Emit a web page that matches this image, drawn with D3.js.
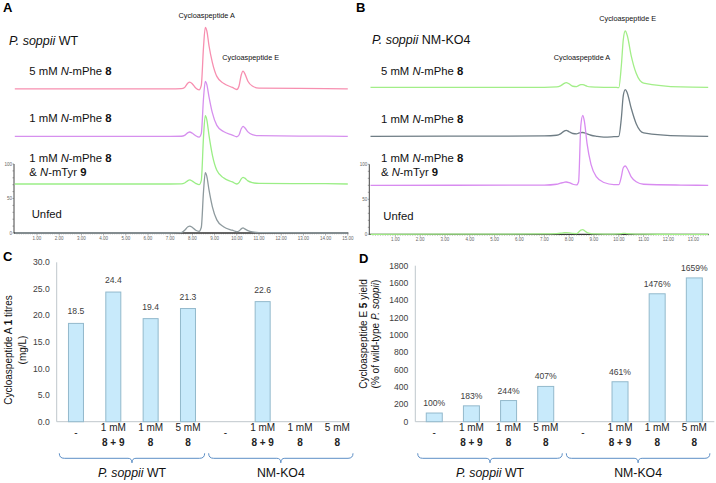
<!DOCTYPE html>
<html>
<head>
<meta charset="utf-8">
<script src="https://cdn.jsdelivr.net/npm/d3@7"></script>
<style>
  body { margin: 0; background: #fff; }
  svg { display: block; font-family: "Liberation Sans", Arial, sans-serif; }
</style>
</head>
<body>
<svg id="fig" width="716" height="483"></svg>
<script>
// ---- chromatogram data (retention time in min, intensity relative to each trace's own baseline) ----
const timesA = [0, 7.0, 7.5, 7.65, 7.8, 7.88, 8.0, 8.15, 8.3, 8.4, 8.5, 8.58, 8.65, 8.75, 8.9, 9.1, 9.4, 9.8, 10.0, 10.1, 10.2, 10.28, 10.36, 10.5, 10.7, 11.0, 14.0, 15.0];
const wt5mM   = [0, 0, 0.3, 2, 8.5, 9.7, 7, 1, -1.5, 5, 60, 89, 84, 62, 38, 18, 8, 2, -1, 4, 20, 25.6, 22, 11, 4, 1, 0.3, 0];
const wt1mM   = [0, 0, 0.2, 1.5, 5.5, 6.4, 4.5, 1, -1, 4, 55, 79.7, 75, 57, 34, 16, 7, 2, -0.5, 2, 11, 14.5, 12.5, 6.5, 2.5, 1, 0.3, 0];
const wt8and9 = [0, 0, 0.2, 1.5, 5, 6, 4.2, 1, -1, 5, 68, 99, 93, 70, 42, 20, 9, 3, 0, 2, 7.5, 9.6, 8.5, 4.5, 2, 0.8, 0.5, 0];
const wtUnfed = [0, 0, 0.5, 4, 9, 10, 8, 4, 2.5, 8, 60, 87.4, 82, 62, 38, 19, 9, 4, 2, 3, 6, 7.5, 6, 3.5, 1.5, 0.5, 0, 0];
const offsetsA = [209, 140, 71, 0];

const timesB = [0, 7.0, 7.5, 7.65, 7.8, 7.88, 8.0, 8.15, 8.3, 8.38, 8.47, 8.55, 8.62, 8.72, 8.88, 9.1, 9.4, 9.8, 10.0, 10.1, 10.18, 10.26, 10.34, 10.5, 10.7, 11.0, 12.5, 13.6];
const ko5mM   = [0, 0, 0.5, 2, 5.5, 6.7, 5, 1.5, 1, 2.5, 3.7, 3.9, 3, 1.5, 0.5, 0.2, 0, 0, -0.5, 30, 68, 80.4, 74, 45, 20, 6, 0.5, 0];
const ko1mM   = [0, 0.5, 1.5, 3.5, 7.5, 8.6, 6.5, 4, 3.5, 4.5, 5.2, 5.4, 5, 3.5, 1.5, 0, -1.2, -0.5, 0, 25, 58, 66.7, 62, 40, 18, 5, 0.5, 0];
const ko8and9 = [0, 0.3, 1.5, 3, 4.3, 4.7, 3.8, 1.5, 0.5, 5, 85, 100, 90, 60, 30, 12, 4, 1, 1, 12, 25, 27.6, 24, 12, 5, 1.5, 0.3, 0];
const koUnfed = [0, 0.5, 1, 1.5, 2.2, 2.3, 2, 1.2, 1, 3, 6, 6.6, 5, 2.5, 1, 0.5, 0.3, 0.3, 0.5, 1, 1.2, 1.2, 1, 0.5, 0.3, 0.2, 0, 0];
const offsetsB = [210, 140, 70, 0];

// ---- bar chart data ----
const catLine1 = ["-", "1 mM", "1 mM", "5 mM", "-", "1 mM", "1 mM", "5 mM"];
const catLine2 = ["", "8 + 9", "8", "8", "", "8 + 9", "8", "8"];
const titresA = [18.5, 24.4, 19.4, 21.3, null, 22.6, null, null];
const yieldE = [100, 183, 244, 407, null, 461, 1476, 1659];
const strains = ["WT", "NM-KO4"];

const svg = d3.select("#fig");

function rich(g, x, y, parts, size, anchor) {
  const t = g.append("text")
    .attr("x", x).attr("y", y)
    .attr("font-size", size)
    .attr("text-anchor", anchor || "start")
    .attr("fill", "#111");
  parts.forEach(p => {
    const s = t.append("tspan").text(p[0]);
    if (p[1] && p[1].includes("i")) s.attr("font-style", "italic");
    if (p[1] && p[1].includes("b")) s.attr("font-weight", "bold");
  });
  return t;
}

function panelLetter(x, y, txt) {
  svg.append("text").attr("x", x).attr("y", y)
    .attr("font-size", 13).attr("font-weight", "bold").text(txt);
}

// ================= chromatograms =================
function drawChrom(opt) {
  const g = svg.append("g");
  const x = d3.scaleLinear().domain([0, opt.tmax]).range(opt.xr);
  const y = d3.scaleLinear().domain([0, 100]).range(opt.yr);

  // y axis
  g.append("line").attr("x1", opt.axisX).attr("x2", opt.axisX)
    .attr("y1", y(0)).attr("y2", y(100)).attr("stroke", "#444").attr("stroke-width", 1);
  d3.range(0, 101, 10).forEach(v => {
    g.append("line").attr("x1", opt.axisX - 1.5).attr("x2", opt.axisX)
      .attr("y1", y(v)).attr("y2", y(v)).attr("stroke", "#666").attr("stroke-width", 0.6);
  });
  [0, 50, 100].forEach(v => {
    g.append("text").attr("x", opt.axisX - 2).attr("y", y(v) + 1.5)
      .attr("font-size", 4.5).attr("text-anchor", "end").attr("fill", "#666").text(v);
  });

  // x axis
  g.append("line").attr("x1", opt.axisX).attr("x2", opt.xr[1] + 0.5)
    .attr("y1", y(0)).attr("y2", y(0)).attr("stroke", "#333").attr("stroke-width", 1.3);
  d3.range(1, Math.floor(opt.tmax * 10) + 1).forEach(k => {
    const t = k / 10;
    const major = k % 10 === 0;
    g.append("line").attr("x1", x(t)).attr("x2", x(t))
      .attr("y1", y(0)).attr("y2", y(0) + (major ? 2.5 : 1.3))
      .attr("stroke", "#555").attr("stroke-width", 0.5);
  });
  d3.range(1, Math.floor(opt.tmax) + 1).forEach(t => {
    g.append("text").attr("x", x(t)).attr("y", y(0) + 6.5)
      .attr("font-size", 4.5).attr("text-anchor", "middle").attr("fill", "#666")
      .text(d3.format(".2f")(t));
  });

  // traces
  const line = d3.line().curve(d3.curveMonotoneX);
  opt.traces.forEach((tr, i) => {
    const pts = opt.times.map((t, j) => [x(t), y(tr[j] + opt.offsets[i])]);
    g.append("path").attr("d", line(pts)).attr("fill", "none")
      .attr("stroke", opt.colors[i]).attr("stroke-width", 1.3);
  });
  return g;
}

drawChrom({
  tmax: 15, xr: [14.8, 347.8], yr: [233, 164], axisX: 14,
  times: timesA, traces: [wt5mM, wt1mM, wt8and9, wtUnfed], offsets: offsetsA,
  colors: ["#f78fb0", "#d690ee", "#9bee86", "#8e9a9e"]
});
drawChrom({
  tmax: 13.6, xr: [370.5, 708.2], yr: [234.3, 164.3], axisX: 369.3,
  times: timesB, traces: [ko5mM, ko1mM, ko8and9, koUnfed], offsets: offsetsB,
  colors: ["#a2ee88", "#6f7d85", "#d88bf0", "#a2ee88"]
});

panelLetter(3, 11.5, "A");
panelLetter(356, 11.5, "B");

// text in A
rich(svg, 9, 45, [["P. soppii", "i"], [" WT"]], 12.5);
rich(svg, 29.3, 75, [["5 mM "], ["N", "i"], ["-mPhe "], ["8", "b"]], 11.3);
rich(svg, 29.3, 122.3, [["1 mM "], ["N", "i"], ["-mPhe "], ["8", "b"]], 11.3);
rich(svg, 29.3, 161.7, [["1 mM "], ["N", "i"], ["-mPhe "], ["8", "b"]], 11.3);
rich(svg, 29.3, 176, [["& "], ["N", "i"], ["-mTyr "], ["9", "b"]], 11.3);
rich(svg, 31.7, 218.3, [["Unfed"]], 11.3);
rich(svg, 206.7, 18.3, [["Cycloaspeptide A"]], 7.3, "middle");
rich(svg, 250.7, 60, [["Cycloaspeptide E"]], 7.3, "middle");

// text in B
rich(svg, 372, 44.3, [["P. soppii", "i"], [" NM-KO4"]], 12.5);
rich(svg, 381, 75, [["5 mM "], ["N", "i"], ["-mPhe "], ["8", "b"]], 11.3);
rich(svg, 381, 123.3, [["1 mM "], ["N", "i"], ["-mPhe "], ["8", "b"]], 11.3);
rich(svg, 381, 161.7, [["1 mM "], ["N", "i"], ["-mPhe "], ["8", "b"]], 11.3);
rich(svg, 381, 176, [["& "], ["N", "i"], ["-mTyr "], ["9", "b"]], 11.3);
rich(svg, 383.3, 220, [["Unfed"]], 11.3);
rich(svg, 627.7, 21, [["Cycloaspeptide E"]], 7.3, "middle");
rich(svg, 582, 60, [["Cycloaspeptide A"]], 7.3, "middle");

// ================= bar charts =================
function bracePath(x0, x1, xc, yb) {
  const h = 5;
  return `M${x0},${yb - h} Q${x0},${yb} ${x0 + 5},${yb} L${xc - 4},${yb} Q${xc},${yb} ${xc},${yb + 4.5}` +
         ` Q${xc},${yb} ${xc + 4},${yb} L${x1 - 5},${yb} Q${x1},${yb} ${x1},${yb - h}`;
}

function drawBars(opt) {
  const g = svg.append("g");
  const x = d3.scaleBand().domain(d3.range(catLine1.length)).range(opt.xr).paddingInner(0).paddingOuter(0);
  const y = d3.scaleLinear().domain([0, opt.ymax]).range(opt.yr);
  const bw = opt.barW;

  // axes
  g.append("line").attr("x1", opt.axisX).attr("x2", opt.axisX)
    .attr("y1", opt.yr[0]).attr("y2", opt.yr[1]).attr("stroke", "#bfc7cc");
  g.append("line").attr("x1", opt.axisX).attr("x2", opt.axisEnd)
    .attr("y1", opt.yr[0]).attr("y2", opt.yr[0]).attr("stroke", "#bfc7cc");
  d3.range(0, opt.ymax + 1e-9, opt.step).forEach(v => {
    g.append("text").attr("x", opt.axisX - 7).attr("y", y(v) + 3)
      .attr("font-size", 8.6).attr("text-anchor", "end").attr("fill", "#404040")
      .text(opt.fmt(v));
  });

  // bars
  opt.values.forEach((v, i) => {
    if (v == null) return;
    const cx = x(i) + x.bandwidth() / 2;
    g.append("rect").attr("x", cx - bw / 2).attr("y", y(v))
      .attr("width", bw).attr("height", y(0) - y(v))
      .attr("fill", "#c8eafb").attr("stroke", "#93b9cc").attr("stroke-width", 1);
    g.append("text").attr("x", cx).attr("y", y(v) - opt.labelGap)
      .attr("font-size", 8.6).attr("text-anchor", "middle").attr("fill", "#404040")
      .text(opt.labelFmt(v));
  });

  // category labels
  catLine1.forEach((c, i) => {
    const cx = x(i) + x.bandwidth() / 2;
    if (catLine2[i] === "") {
      g.append("text").attr("x", cx).attr("y", 436).attr("font-size", 10)
        .attr("text-anchor", "middle").attr("fill", "#222").text(c);
    } else {
      g.append("text").attr("x", cx).attr("y", 431).attr("font-size", 10)
        .attr("text-anchor", "middle").attr("fill", "#222").text(c);
      g.append("text").attr("x", cx).attr("y", 446).attr("font-size", 10)
        .attr("font-weight", "bold").attr("text-anchor", "middle").attr("fill", "#222").text(catLine2[i]);
    }
  });

  // group braces
  const x0 = opt.xr[0], x1 = opt.xr[1], xm = (x0 + x1) / 2;
  [[x0 + 2, xm - 2], [xm + 2, x1 - 3]].forEach((r, k) => {
    const xc = (r[0] + r[1]) / 2;
    g.append("path").attr("d", bracePath(r[0], r[1], xc, 458.3))
      .attr("fill", "none").attr("stroke", "#5d8fc6").attr("stroke-width", 1);
    const parts = k === 0 ? [["P. soppii", "i"], [" " + strains[0]]] : [[strains[1]]];
    rich(g, xc, 477.3, parts, 12.3, "middle").attr("fill", "#111");
  });

  // y title
  opt.title.forEach((parts, k) => {
    rich(g, 0, 0, parts, 10, "middle")
      .attr("transform", `translate(${opt.titleX[k]},${opt.titleY}) rotate(-90)`);
  });
  return g;
}

drawBars({
  xr: [57.3, 356], yr: [421.7, 262.3], ymax: 30, step: 5, axisX: 56.7, axisEnd: 350,
  values: titresA, barW: 15, fmt: d3.format(".1f"), labelFmt: d3.format(".1f"), labelGap: 9,
  title: [[["Cycloaspeptide A "], ["1", "b"], [" titres"]], [["(mg/L)"]]],
  titleX: [11.5, 25.5], titleY: 350
});
drawBars({
  xr: [415.7, 712.9], yr: [421.7, 265.7], ymax: 1800, step: 200, axisX: 415.3, axisEnd: 714.3,
  values: yieldE, barW: 16, fmt: d3.format("d"), labelFmt: v => v + "%", labelGap: 7,
  title: [[["Cycloaspeptide E "], ["5", "b"], [" yield"]], [["(% of wild-type "], ["P. soppii", "i"], [")"]]],
  titleX: [367, 378.5], titleY: 334
});

panelLetter(3, 261, "C");
panelLetter(359, 263, "D");
</script>
</body>
</html>
